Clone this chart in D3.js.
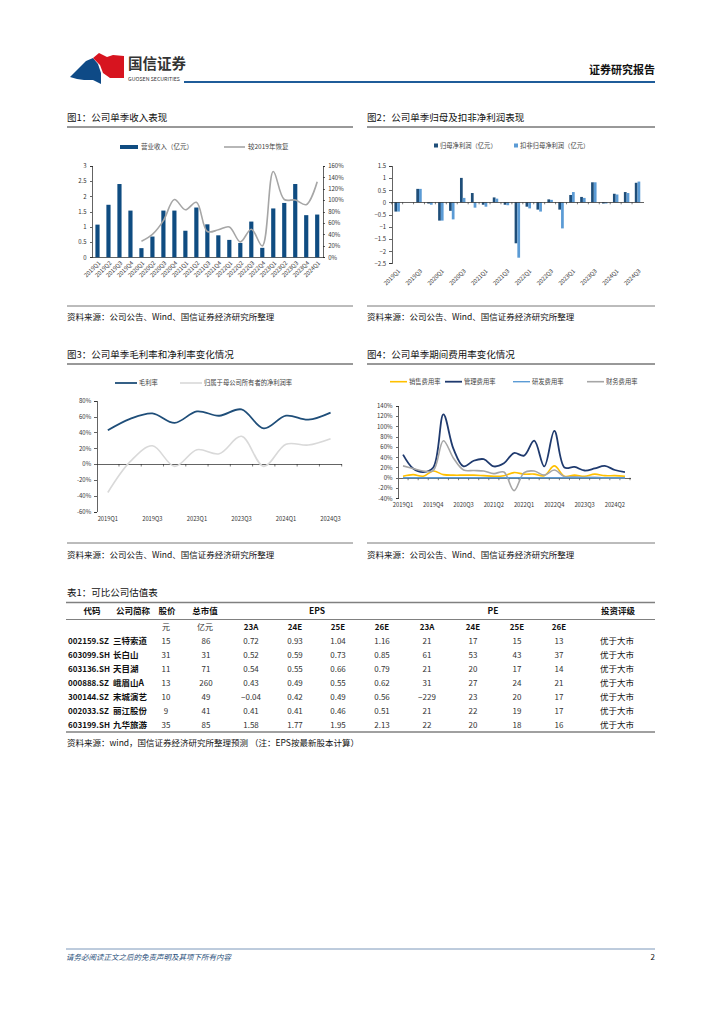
<!DOCTYPE html>
<html>
<head>
<meta charset="utf-8">
<script src="https://cdn.jsdelivr.net/npm/d3@7"></script>
<style>
    body{margin:0;background:#fff;}
    svg text{font-family:"Noto Sans CJK SC","Noto Sans",sans-serif;fill:#222;}
    .ax path,.ax line{stroke:#222;stroke-width:0.7;shape-rendering:crispEdges;}
    .ax text{font-size:6px;fill:#333;}
</style>
</head>
<body>
<div id="page"></div>
<script>
//====================================
//data
var revQuarters = ['2019Q1','2019Q2','2019Q3','2019Q4','2020Q1','2020Q2','2020Q3','2020Q4','2021Q1','2021Q2','2021Q3',
    '2021Q4','2022Q1','2022Q2','2022Q3','2022Q4','2023Q1','2023Q2','2023Q3','2023Q4','2024Q1'];
var revenue = [1.07,1.72,2.40,1.53,0.30,0.68,1.53,1.53,0.87,1.63,1.08,0.72,0.57,0.47,1.17,0.31,1.60,1.78,2.40,1.38,1.40];
var recovery = [null,null,null,null,0.28,0.40,0.64,1.01,0.83,0.96,0.45,0.48,0.53,0.27,0.49,0.20,1.50,1.01,1.00,0.92,1.32];
var revTicks = [0,0.5,1,1.5,2,2.5,3];
var recTicks = [0,0.2,0.4,0.6,0.8,1.0,1.2,1.4,1.6];

var profitQuarters = revQuarters.concat(['2024Q2','2024Q3']);
var netProfit = [-0.38,0,0.55,-0.05,-0.75,-0.35,1.00,0.38,-0.10,0.20,-0.10,-1.68,-0.18,-0.30,0.12,-0.30,0.30,0.22,0.82,-0.05,0.35,0.42,0.80];
var deductProfit = [-0.38,0,0.55,-0.10,-0.75,-0.70,0.18,-0.22,-0.18,0.15,-0.12,-2.27,-0.25,-0.38,0.10,-1.07,0.42,0.18,0.82,-0.05,0.32,0.38,0.85];
var profitTicks = [-2.5,-2,-1.5,-1,-0.5,0,0.5,1,1.5];

var marginQuarters = ['2019Q1','2019Q2','2019Q3','2019Q4','2023Q1','2023Q2','2023Q3','2023Q4','2024Q1','2024Q2','2024Q3'];
var grossMargin = [42.6,57,64,52,66.5,61,69,45,61,56,65];
var netMargin = [-36,3,23,-3,18,13,35,-3,25,24,32];
var marginTicks = [-60,-40,-20,0,20,40,60,80];

var feeQuarters = profitQuarters;
var salesRate = [3,6,3,13,6,5,5,5,4,3,4,10,7,7,4,23,3,5,3,7,4,4,3];
var mgmtRate = [45,18,11,20,123,56,22,33,36,22,28,48,43,72,22,91,20,21,14,18,23,15,11];
var rdRate = [0,0,0,0,0,0,0,0,0,0,0,0,0,0,0,0,0,0,0,0,0,0,0];
var finRate = [23,18,13,14,72,38,15,14,13,8,11,-25,10,13,5,15,2,2,1,1,0,0,0];
var feeTicks = [-40,-20,0,20,40,60,80,100,120,140];

var codes = ['002159.SZ','603099.SH','603136.SH','000888.SZ','300144.SZ','002033.SZ','603199.SH'];
var names = ['三特索道','长白山','天目湖','峨眉山A','宋城演艺','丽江股份','九华旅游'];
var prices = [15,31,11,13,10,9,35];
var mktCaps = [86,31,71,260,49,41,85];
var epsRows = [[0.72,0.93,1.04,1.16],[0.52,0.59,0.73,0.85],[0.54,0.55,0.66,0.79],[0.43,0.49,0.55,0.62],
    [-0.04,0.42,0.49,0.56],[0.41,0.41,0.46,0.51],[1.58,1.77,1.95,2.13]];
var peRows = [[21,17,15,13],[61,53,43,37],[21,20,17,14],[31,27,24,21],[-229,23,20,17],[21,22,19,17],[22,20,18,16]];
var ratings = ['优于大市','优于大市','优于大市','优于大市','优于大市','优于大市','优于大市'];
var yearCols = ['23A','24E','25E','26E'];

//colors
var NAVY = '#1F4E79', DARK = '#0F4C81', LIGHT = '#5B9BD5', GRAY = '#A6A6A6', YELLOW = '#FFC000';

var svg = d3.select('#page').append('svg').attr('width', 724).attr('height', 1024);
svg.append('rect').attr('width', 724).attr('height', 1024).attr('fill', '#fff');

//small text helper
function label(g, x, y, s, size, anchor, weight, fill){
    return g.append('text')
        .attr('x', x).attr('y', y)
        .attr('dy', '0.35em')
        .attr('text-anchor', anchor || 'start')
        .style('font-size', size + 'px')
        .style('font-weight', weight || 'normal')
        .style('fill', fill || '#222')
        .text(s);
}
function hline(g, x1, x2, y, color, w){
    g.append('line').attr('x1', x1).attr('x2', x2).attr('y1', y).attr('y2', y)
        .attr('stroke', color).attr('stroke-width', w);
}

//====================================
//page header
var head = svg.append('g');
head.append('path').attr('d', 'M70,77 L86,61 L93,58 L98,64 L101,73 L101,84 L93,80 L84,80 L77,79 Z').attr('fill', '#0E4A86');
head.append('path').attr('d', 'M93,58 L99,53 L107,57 L113,55 L124,56 L124,78 L110,78 L103,73 L100,65 Z').attr('fill', '#D7141F');
label(head, 128, 64, '国信证券', 14.5, 'start', 'bold', '#333');
label(head, 128, 79.5, 'GUOSEN SECURITIES', 5.3, 'start', 'normal', '#333');
label(head, 655, 70, '证券研究报告', 11, 'end', 'bold', '#111');
hline(head, 184, 655, 82, '#1F5C99', 2);

//section title + source helper
function section(x, x2, yTitle, yLine, yTop, yText, title){
    var g = svg.append('g');
    label(g, x, yTitle, title, 9.5, 'start', 'normal', '#111');
    hline(g, x, x2, yLine, '#333', 1);
    hline(g, x, x2, yTop, '#555', 0.8);
    label(g, x, yText, '资料来源：公司公告、Wind、国信证券经济研究所整理', 8.5, 'start', 'normal', '#111');
}
section(67, 353, 118, 127, 306, 317, '图1：公司单季收入表现');
section(367, 655, 118, 127, 306, 317, '图2：公司单季归母及扣非净利润表现');
section(67, 353, 355, 364, 543, 555, '图3：公司单季毛利率和净利率变化情况');
section(367, 655, 355, 364, 543, 555, '图4：公司单季期间费用率变化情况');

//====================================
//chart 1: revenue bars + recovery line
(function(){
    var g = svg.append('g');
    var x = d3.scaleBand().domain(revQuarters).range([92, 322.7]).paddingInner(0.62).paddingOuter(0.31);
    var y = d3.scaleLinear().domain([0, 3]).range([257.3, 165.7]);
    var yr = d3.scaleLinear().domain([0, 1.6]).range([257.3, 165.7]);

    g.append('g').attr('class', 'ax').attr('transform', 'translate(92,0)')
        .call(d3.axisLeft(y).tickValues(revTicks).tickSize(2.5).tickFormat(d3.format('~g')));
    g.append('g').attr('class', 'ax').attr('transform', 'translate(322.7,0)')
        .call(d3.axisRight(yr).tickValues(recTicks).tickSize(2.5).tickFormat(d3.format('.0%')));
    g.append('g').attr('class', 'ax').attr('transform', 'translate(0,257.3)')
        .call(d3.axisBottom(x).tickSize(0).tickFormat(''));

    g.selectAll('rect.bar').data(revenue).enter().append('rect')
        .attr('class', 'bar')
        .attr('x', function(d, i){return x(revQuarters[i]);})
        .attr('y', function(d){return y(d);})
        .attr('width', x.bandwidth())
        .attr('height', function(d){return y(0) - y(d);})
        .attr('fill', DARK);

    var line = d3.line()
        .defined(function(d){return d !== null;})
        .x(function(d, i){return x(revQuarters[i]) + x.bandwidth() / 2;})
        .y(function(d){return yr(d);})
        .curve(d3.curveCatmullRom);
    g.append('path').datum(recovery).attr('d', line)
        .attr('fill', 'none').attr('stroke', GRAY).attr('stroke-width', 1.6);

    revQuarters.forEach(function(q){
        var cx = x(q) + x.bandwidth() / 2 + 2;
        g.append('text').attr('transform', 'translate(' + cx + ',262) rotate(-45)')
            .attr('text-anchor', 'end').attr('dy', '0.35em')
            .style('font-size', '5.8px').style('fill', '#333').text(q);
    });

    //legend
    g.append('rect').attr('x', 120).attr('y', 145).attr('width', 18).attr('height', 4).attr('fill', DARK);
    label(g, 141, 147, '营业收入（亿元）', 6.5, 'start', 'normal', '#444');
    hline(g, 224, 245, 147, GRAY, 1.6);
    label(g, 248, 147, '较2019年恢复', 6.5, 'start', 'normal', '#444');
})();

//====================================
//chart 2: net profit pairs
(function(){
    var g = svg.append('g');
    var x = d3.scaleBand().domain(profitQuarters).range([391.7, 643]).paddingInner(0.5).paddingOuter(0.25);
    var y = d3.scaleLinear().domain([-2.5, 1.5]).range([263.3, 165.7]);
    var bw = x.bandwidth() / 2;

    g.append('g').attr('class', 'ax').attr('transform', 'translate(391.7,0)')
        .call(d3.axisLeft(y).tickValues(profitTicks).tickSize(2.5).tickFormat(d3.format('~g')));

    var series = [netProfit, deductProfit];
    var colors = [NAVY, LIGHT];
    series.forEach(function(vals, s){
        g.selectAll('rect.s' + s).data(vals).enter().append('rect')
            .attr('class', 's' + s)
            .attr('x', function(d, i){return x(profitQuarters[i]) + s * bw;})
            .attr('y', function(d){return y(Math.max(0, d));})
            .attr('width', bw)
            .attr('height', function(d){return Math.abs(y(d) - y(0));})
            .attr('fill', colors[s]);
    });

    g.append('g').attr('class', 'ax').attr('transform', 'translate(0,' + y(0) + ')')
        .call(d3.axisBottom(x).tickSize(0).tickFormat(''));
    //boundary ticks
    profitQuarters.forEach(function(q){
        var bx = x(q) - x.step() * x.paddingInner() / 2;
        g.append('line').attr('x1', bx).attr('x2', bx).attr('y1', y(0)).attr('y2', y(0) + 2)
            .attr('stroke', '#222').attr('stroke-width', 0.6);
    });

    profitQuarters.forEach(function(q, i){
        if(i % 2 !== 0){
            return;
        }
        var cx = x(q) + x.bandwidth() / 2 + 2;
        g.append('text').attr('transform', 'translate(' + cx + ',270) rotate(-45)')
            .attr('text-anchor', 'end').attr('dy', '0.35em')
            .style('font-size', '5.8px').style('fill', '#333').text(q);
    });

    g.append('rect').attr('x', 434).attr('y', 143.5).attr('width', 4).attr('height', 4).attr('fill', NAVY);
    label(g, 440, 145.5, '归母净利润（亿元）', 6.3, 'start', 'normal', '#444');
    g.append('rect').attr('x', 514).attr('y', 143.5).attr('width', 4).attr('height', 4).attr('fill', LIGHT);
    label(g, 520, 145.5, '扣非归母净利润（亿元）', 6.3, 'start', 'normal', '#444');
})();

//====================================
//line chart helper for charts 3 & 4
function lineChart(opt){
    var g = svg.append('g');
    var x = d3.scaleBand().domain(opt.cats).range([opt.x0, opt.x1]);
    var y = d3.scaleLinear().domain(opt.domain).range([opt.yBottom, opt.yTop]);

    g.append('g').attr('class', 'ax').attr('transform', 'translate(' + opt.x0 + ',0)')
        .call(d3.axisLeft(y).tickValues(opt.ticks).tickSize(2.5).tickFormat(function(d){return d + '%';}));
    g.append('g').attr('class', 'ax').attr('transform', 'translate(0,' + y(0) + ')')
        .call(d3.axisBottom(x).tickSize(0).tickFormat(''));
    opt.cats.forEach(function(q, i){
        var bx = x(q) + x.step();
        g.append('line').attr('x1', bx).attr('x2', bx).attr('y1', y(0)).attr('y2', y(0) + 2.5)
            .attr('stroke', '#222').attr('stroke-width', 0.6);
        if(i % opt.every === 0){
            label(g, x(q) + x.step() / 2, opt.labelY, q, 5.8, 'middle', 'normal', '#333');
        }
    });

    var line = d3.line()
        .x(function(d, i){return x(opt.cats[i]) + x.step() / 2;})
        .y(function(d){return y(d);})
        .curve(d3.curveCatmullRom);
    opt.series.forEach(function(s){
        g.append('path').datum(s.values).attr('d', line)
            .attr('fill', 'none').attr('stroke', s.color).attr('stroke-width', s.width);
    });

    //legend
    opt.series.forEach(function(s){
        hline(g, s.lx, s.lx + opt.swatch, opt.legendY, s.color, s.width);
        label(g, s.lx + opt.swatch + 2, opt.legendY, s.name, 6.3, 'start', 'normal', '#444');
    });
}

lineChart({
    cats: marginQuarters, x0: 96.7, x1: 341.7,
    domain: [-60, 80], yBottom: 511.5, yTop: 400.7, ticks: marginTicks,
    every: 2, labelY: 519, legendY: 383, swatch: 22,
    series: [
        {name: '毛利率', values: grossMargin, color: NAVY, width: 1.8, lx: 115},
        {name: '归属于母公司所有者的净利润率', values: netMargin, color: '#D9D9D9', width: 1.6, lx: 180}
    ]
});

lineChart({
    cats: feeQuarters, x0: 398, x1: 630,
    domain: [-40, 140], yBottom: 498.3, yTop: 405.7, ticks: feeTicks,
    every: 3, labelY: 505, legendY: 381.7, swatch: 17,
    series: [
        {name: '销售费用率', values: salesRate, color: YELLOW, width: 1.6, lx: 390},
        {name: '管理费用率', values: mgmtRate, color: '#1F3A6E', width: 1.8, lx: 445},
        {name: '财务费用率', values: finRate, color: GRAY, width: 1.6, lx: 587},
        {name: '研发费用率', values: rdRate, color: LIGHT, width: 1.4, lx: 513}
    ]
});

//====================================
//valuation table
(function(){
    var g = svg.append('g');
    var epsX = [251, 295, 338, 382];
    var peX = [427, 473, 517, 559];
    var rowY = [641, 655, 669, 683, 697, 711, 725];
    var fmt2 = d3.format('.2f');

    label(g, 67, 593, '表1：可比公司估值表', 9.5, 'start', 'normal', '#111');
    hline(g, 66, 655, 602.5, '#808080', 1.6);
    hline(g, 66, 655, 619.5, '#808080', 1.2);
    hline(g, 66, 655, 732, '#808080', 1.6);

    [['代码', 92], ['公司简称', 133], ['股价', 167], ['总市值', 205], ['EPS', 317], ['PE', 493], ['投资评级', 618]]
        .forEach(function(h){
            label(g, h[1], 611.5, h[0], 8.5, 'middle', 'bold', '#111');
        });
    label(g, 166, 627, '元', 8, 'middle', 'normal', '#333');
    label(g, 205, 627, '亿元', 8, 'middle', 'normal', '#333');
    yearCols.forEach(function(c, i){
        label(g, epsX[i], 627, c, 8, 'middle', 'bold', '#111');
        label(g, peX[i], 627, c, 8, 'middle', 'bold', '#111');
    });

    codes.forEach(function(c, r){
        var yy = rowY[r];
        label(g, 68, yy, c, 8, 'start', 'bold', '#111');
        label(g, 113, yy, names[r], 8.5, 'start', 'bold', '#111');
        label(g, 166, yy, prices[r], 8, 'middle', 'normal', '#333');
        label(g, 206, yy, mktCaps[r], 8, 'middle', 'normal', '#333');
        epsRows[r].forEach(function(v, i){
            label(g, epsX[i], yy, fmt2(v), 8, 'middle', 'normal', '#333');
        });
        peRows[r].forEach(function(v, i){
            label(g, peX[i], yy, d3.format('d')(v), 8, 'middle', 'normal', '#333');
        });
        label(g, 617, yy, ratings[r], 8.5, 'middle', 'normal', '#111');
    });

    label(g, 67, 743, '资料来源：wind，国信证券经济研究所整理预测  （注：EPS按最新股本计算）', 8.5, 'start', 'normal', '#111');
})();

//====================================
//footer
var foot = svg.append('g');
hline(foot, 66, 655, 949, '#5B7FA8', 0.8);
label(foot, 66, 957, '请务必阅读正文之后的免责声明及其项下所有内容', 7.5, 'start', 'normal', '#1F4E79')
    .style('font-style', 'italic');
label(foot, 655, 957, '2', 8, 'end', 'normal', '#111');
</script>
</body>
</html>
